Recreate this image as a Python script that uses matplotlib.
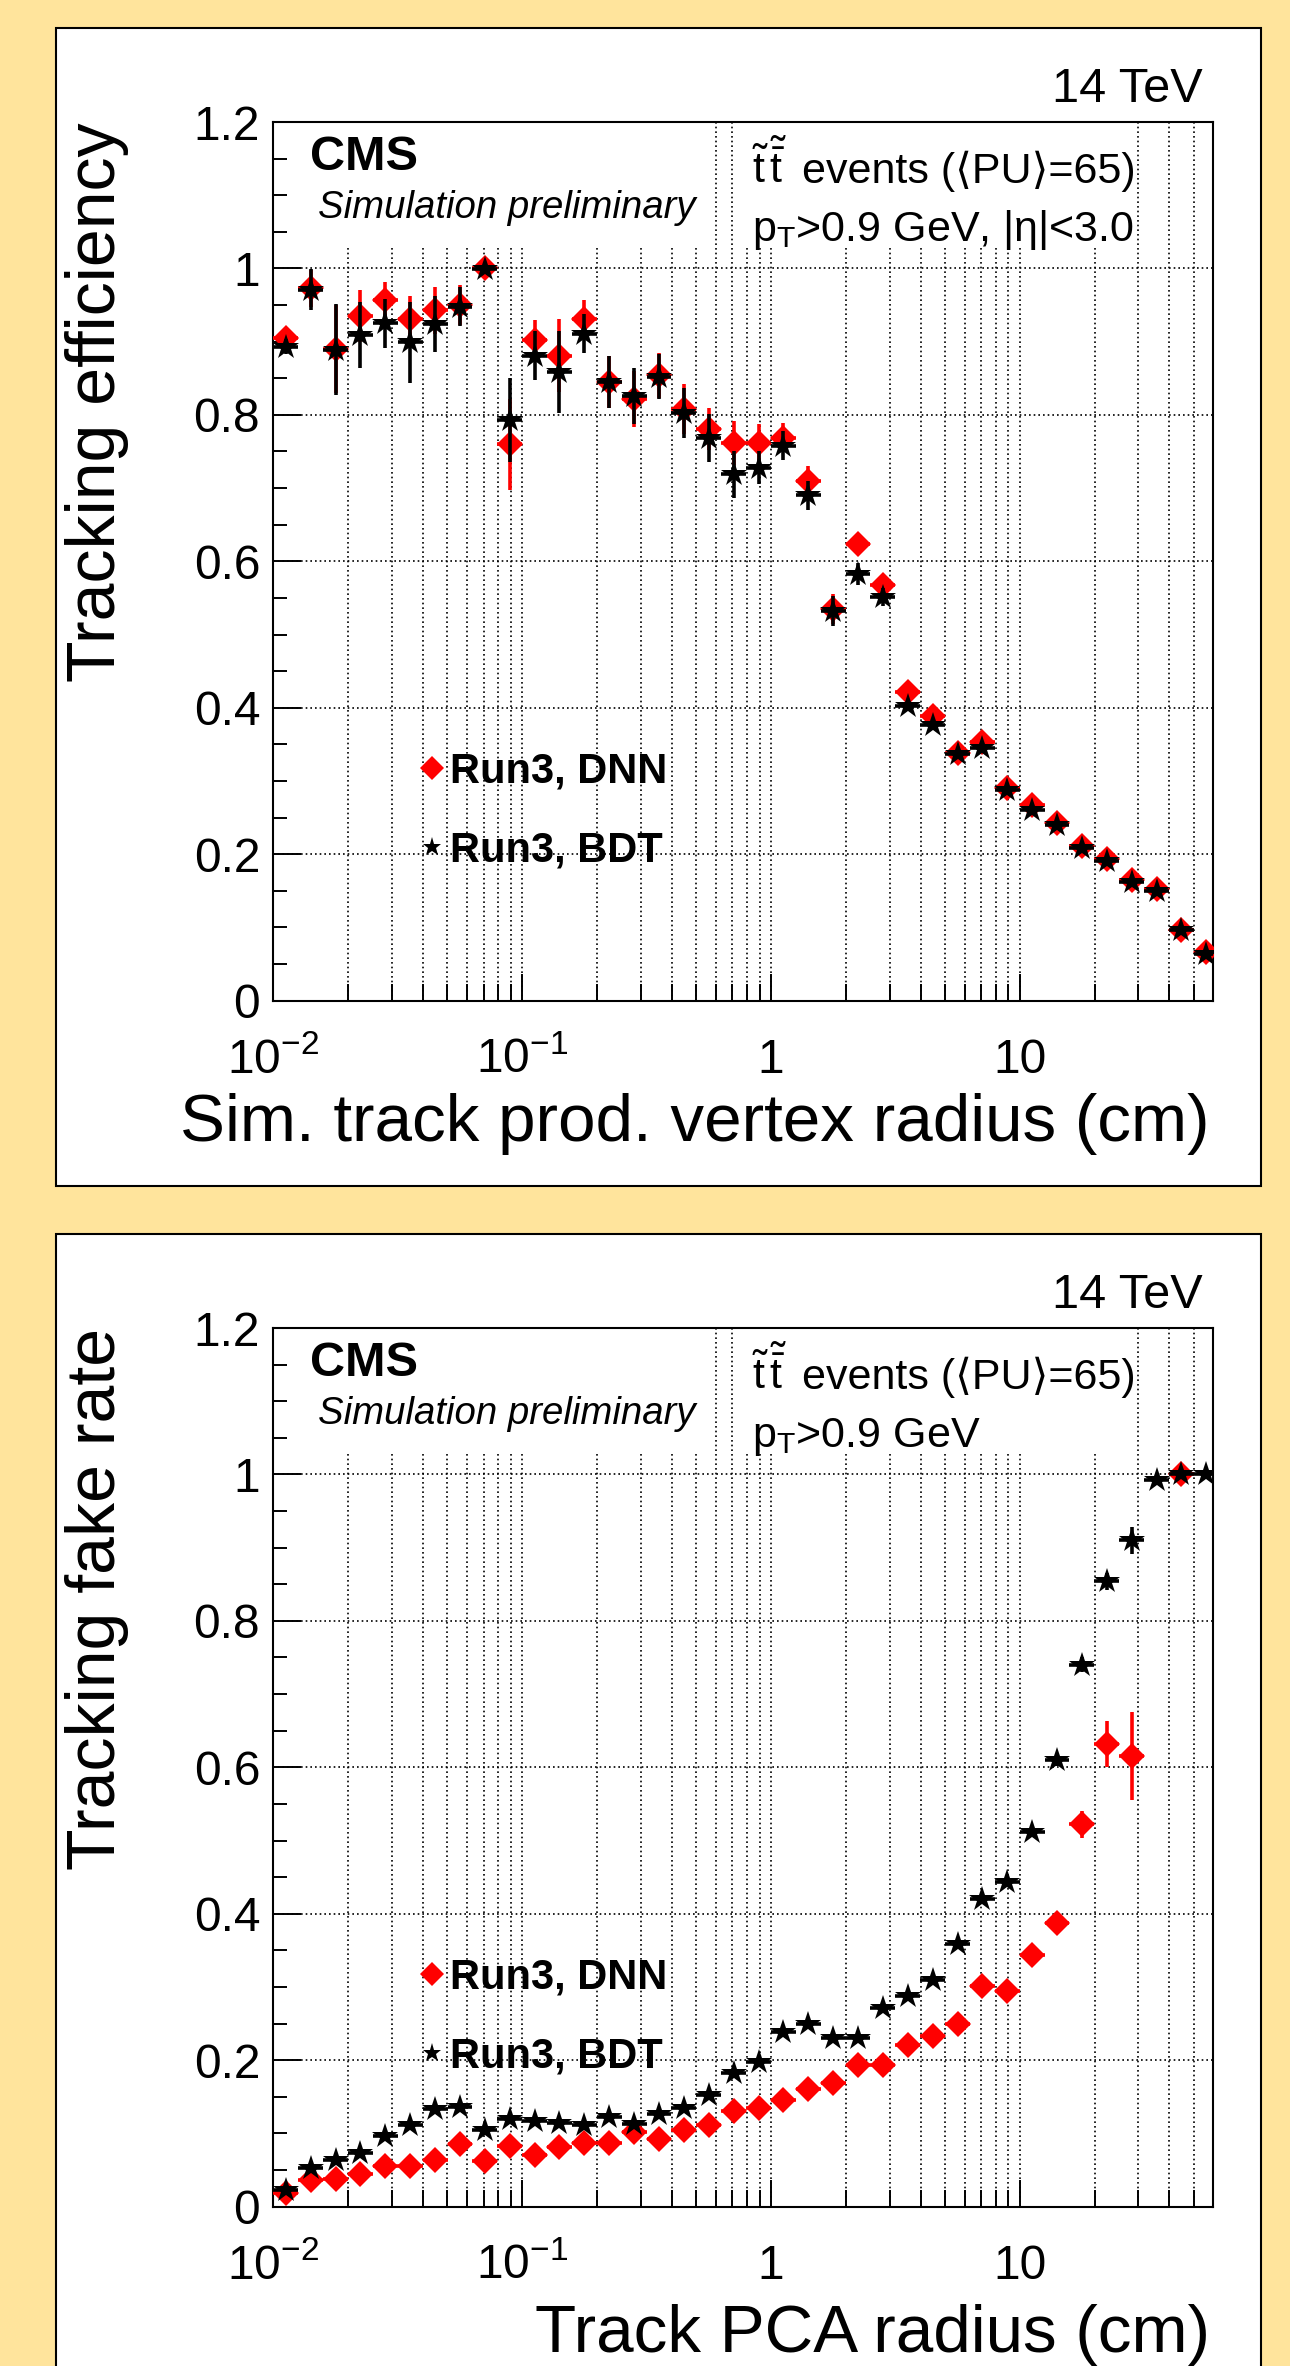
import numpy as np
import matplotlib
matplotlib.use("Agg")
import matplotlib.pyplot as plt
import matplotlib.transforms as mtransforms
from matplotlib.patches import Rectangle
from matplotlib.lines import Line2D
from matplotlib.ticker import LogLocator, NullFormatter, MultipleLocator

plt.rcParams['font.family'] = ['Liberation Sans', 'DejaVu Sans']
plt.rcParams['mathtext.fontset'] = 'custom'
plt.rcParams['mathtext.rm'] = 'Liberation Sans'
plt.rcParams['mathtext.it'] = 'Liberation Sans:italic'
plt.rcParams['mathtext.bf'] = 'Liberation Sans:bold'
plt.rcParams['mathtext.fallback'] = 'stixsans'

# log10 of the radius bin edges (cm), 10 bins per decade
log_edges = [-2.0, -1.9, -1.8, -1.7, -1.6, -1.5, -1.4, -1.3, -1.2, -1.1,
             -1.0, -0.9, -0.8, -0.7, -0.6, -0.5, -0.4, -0.3, -0.2, -0.1,
             0.0, 0.1, 0.2, 0.3, 0.4, 0.5, 0.6, 0.7, 0.8, 0.9,
             1.0, 1.1, 1.2, 1.3, 1.4, 1.5, 1.6, 1.7, 1.8]

# tracking efficiency vs sim. track production vertex radius
eff_dnn = [0.905, 0.973, 0.890, 0.935, 0.957, 0.931, 0.943, 0.950, 1.000, 0.760,
           0.902, 0.881, 0.931, 0.845, 0.822, 0.854, 0.808, 0.781, 0.762, 0.762,
           0.769, 0.710, 0.535, 0.624, 0.568, 0.421, 0.389, 0.338, 0.353, 0.290,
           0.267, 0.243, 0.211, 0.193, 0.165, 0.152, 0.097, 0.067]
eff_dnn_err = [0.010, 0.025, 0.060, 0.035, 0.025, 0.032, 0.032, 0.027, 0.005, 0.062,
               0.027, 0.050, 0.026, 0.035, 0.038, 0.031, 0.034, 0.029, 0.030, 0.025,
               0.020, 0.020, 0.020, 0.015, 0.012, 0.008, 0.008, 0.007, 0.007, 0.006,
               0.006, 0.005, 0.005, 0.005, 0.005, 0.005, 0.004, 0.004]
eff_bdt = [0.893, 0.971, 0.889, 0.909, 0.925, 0.899, 0.924, 0.948, 0.999, 0.793,
           0.881, 0.858, 0.911, 0.845, 0.826, 0.852, 0.803, 0.768, 0.719, 0.728,
           0.758, 0.690, 0.532, 0.583, 0.551, 0.403, 0.377, 0.337, 0.345, 0.287,
           0.261, 0.240, 0.208, 0.191, 0.162, 0.150, 0.096, 0.064]
eff_bdt_err = [0.010, 0.028, 0.062, 0.045, 0.033, 0.055, 0.038, 0.027, 0.005, 0.058,
               0.033, 0.056, 0.027, 0.035, 0.038, 0.031, 0.034, 0.033, 0.032, 0.023,
               0.020, 0.020, 0.020, 0.015, 0.012, 0.008, 0.008, 0.007, 0.007, 0.006,
               0.006, 0.005, 0.005, 0.005, 0.005, 0.005, 0.004, 0.004]

# tracking fake rate vs track PCA radius (nan = empty bin)
fake_dnn = [0.019, 0.037, 0.038, 0.044, 0.056, 0.056, 0.064, 0.086, 0.062, 0.083,
            0.070, 0.081, 0.087, 0.087, 0.102, 0.092, 0.105, 0.111, 0.130, 0.135,
            0.146, 0.161, 0.169, 0.193, 0.193, 0.221, 0.233, 0.250, 0.301, 0.294,
            0.344, 0.387, 0.522, 0.632, 0.616, np.nan, 1.000, np.nan]
fake_dnn_err = [0.003, 0.003, 0.003, 0.003, 0.003, 0.003, 0.003, 0.003, 0.003, 0.003,
                0.003, 0.003, 0.003, 0.003, 0.003, 0.003, 0.003, 0.003, 0.003, 0.003,
                0.003, 0.003, 0.003, 0.003, 0.003, 0.004, 0.004, 0.004, 0.005, 0.005,
                0.006, 0.008, 0.018, 0.031, 0.060, 0.0, 0.005, 0.0]
fake_bdt = [0.023, 0.053, 0.064, 0.073, 0.097, 0.111, 0.133, 0.136, 0.105, 0.120,
            0.117, 0.114, 0.112, 0.122, 0.113, 0.126, 0.135, 0.153, 0.182, 0.197,
            0.238, 0.250, 0.230, 0.230, 0.271, 0.287, 0.310, 0.359, 0.420, 0.443,
            0.511, 0.610, 0.740, 0.854, 0.910, 0.993, 1.000, 1.000]
fake_bdt_err = [0.003, 0.003, 0.003, 0.003, 0.003, 0.003, 0.003, 0.003, 0.003, 0.003,
                0.003, 0.003, 0.003, 0.003, 0.003, 0.003, 0.003, 0.003, 0.003, 0.003,
                0.003, 0.003, 0.003, 0.003, 0.003, 0.004, 0.004, 0.004, 0.005, 0.005,
                0.006, 0.008, 0.010, 0.012, 0.018, 0.005, 0.003, 0.003]

xtick_vals = [0.01, 0.1, 1, 10]
xtick_labels = [r'$10^{-2}$', r'$10^{-1}$', '1', '10']
ytick_vals = [0, 0.2, 0.4, 0.6, 0.8, 1.0, 1.2]
ytick_labels = ['0', '0.2', '0.4', '0.6', '0.8', '1', '1.2']
legend_labels = ['Run3, DNN', 'Run3, BDT']

edges = 10 ** np.array(log_edges)
centers = np.sqrt(edges[:-1] * edges[1:])
xerr = [centers - edges[:-1], edges[1:] - centers]

W, H = 1290, 2366
fig = plt.figure(figsize=(W / 100, H / 100), dpi=100, facecolor='#FFE49C')


def fx(x):
    return x / W


def fy(y):
    return 1 - y / H


def panel(off, y_dnn, e_dnn, y_bdt, e_bdt, ylabel, xlabel, cut_text, xlab_base):
    # white pad with frame
    pad_bot = min(1186 + off, H + 20)
    fig.add_artist(Rectangle((fx(56), fy(pad_bot)), (1261 - 56) / W,
                             (pad_bot - (28 + off)) / H,
                             transform=fig.transFigure, fc='white', ec='black',
                             lw=1.5, zorder=-5))
    ax_l, ax_r, ax_t, ax_b = 273.4, 1213.3, 122 + off, 1000.6 + off
    ax = fig.add_axes([fx(ax_l), fy(ax_b), (ax_r - ax_l) / W, (ax_b - ax_t) / H])
    ax.set_xscale('log')
    ax.set_xlim(0.01, 60)
    ax.set_ylim(0, 1.2)
    ax.set_axisbelow(True)

    ax.xaxis.set_major_locator(LogLocator(base=10, subs=(1.0,)))
    ax.xaxis.set_minor_locator(LogLocator(base=10, subs=np.arange(2, 10)))
    ax.xaxis.set_minor_formatter(NullFormatter())
    ax.set_yticks(ytick_vals, ytick_labels)
    ax.yaxis.set_minor_locator(MultipleLocator(0.05))

    ax.tick_params(which='both', direction='in', top=False, right=False, width=1.4)
    ax.tick_params(axis='x', which='major', length=19.5, labelbottom=False)
    ax.tick_params(axis='x', which='minor', length=12)
    ax.tick_params(axis='y', which='major', length=20, pad=9.5, labelsize=34.5)
    ax.tick_params(axis='y', which='minor', length=10)
    for s in ax.spines.values():
        s.set_linewidth(1.5)

    ax.grid(True, which='major', axis='y', ls=(0, (1, 1.8)), lw=1.2, color='black')
    ax.grid(True, which='both', axis='x', ls=(0, (1, 1.8)), lw=1.2, color='black')

    lab_tr = ax.get_xaxis_transform() + mtransforms.ScaledTranslation(0, -0.72, fig.dpi_scale_trans)
    for v, lab in zip(xtick_vals, xtick_labels):
        ax.text(v, 0, lab, transform=lab_tr, ha='center', va='baseline', fontsize=34.5)

    # opaque text panes
    ax.add_patch(Rectangle((0.02, 0.858), 0.44, 0.142, transform=ax.transAxes,
                           fc='white', ec='none', zorder=1))
    ax.add_patch(Rectangle((0.494, 0.858), 0.401, 0.142, transform=ax.transAxes,
                           fc='white', ec='none', zorder=1))

    ax.errorbar(centers, y_dnn, yerr=e_dnn, xerr=xerr, fmt='D', color='red', ms=13,
                mew=0, elinewidth=2.6, capsize=0, zorder=3)
    ax.errorbar(centers, y_bdt, yerr=e_bdt, xerr=xerr, fmt='*', color='black', ms=19,
                mew=0, elinewidth=2.6, capsize=0, zorder=4)

    handles = [Line2D([], [], marker='D', color='red', ls='none', ms=12, mew=0),
               Line2D([], [], marker='*', color='black', ls='none', ms=14, mew=0)]
    ax.legend(handles, legend_labels, loc='center left',
              bbox_to_anchor=(fx(415), fy(811 + off)), bbox_transform=fig.transFigure,
              frameon=False, borderpad=0, borderaxespad=0, handlelength=0.8,
              handletextpad=0.05, labelspacing=0.95,
              prop={'weight': 'bold', 'size': 30})

    fig.text(fx(310), fy(170 + off), 'CMS', fontsize=35, weight='bold', va='baseline')
    fig.text(fx(318), fy(218 + off), 'Simulation preliminary', fontsize=27.6,
             style='italic', va='baseline')
    fig.text(fx(1203), fy(102 + off), '14 TeV', fontsize=35, ha='right', va='baseline')
    fig.text(fx(752), fy(183 + off), r'$\tilde{\mathrm{t}}\,\tilde{\bar{\mathrm{t}}}$',
             fontsize=31, va='baseline')
    fig.text(fx(802), fy(183 + off), 'events (⟨PU⟩=65)', fontsize=31, va='baseline')
    fig.text(fx(752), fy(241 + off), cut_text, fontsize=31, va='baseline')
    fig.text(fx(97), fy(ax_t), ylabel, fontsize=49, rotation=90, ha='center', va='top')
    fig.text(fx(1210), fy(xlab_base), xlabel, fontsize=48.5, ha='right', va='baseline')
    return ax


panel(0, eff_dnn, eff_dnn_err, eff_bdt, eff_bdt_err, 'Tracking efficiency',
      'Sim. track prod. vertex radius (cm)',
      r'p$_{\mathrm{T}}$>0.9 GeV, |η|<3.0', 1141)
panel(1206, fake_dnn, fake_dnn_err, fake_bdt, fake_bdt_err, 'Tracking fake rate',
      'Track PCA radius (cm)', r'p$_{\mathrm{T}}$>0.9 GeV', 2352)

fig.savefig('out.png', dpi=100, facecolor=fig.get_facecolor())
